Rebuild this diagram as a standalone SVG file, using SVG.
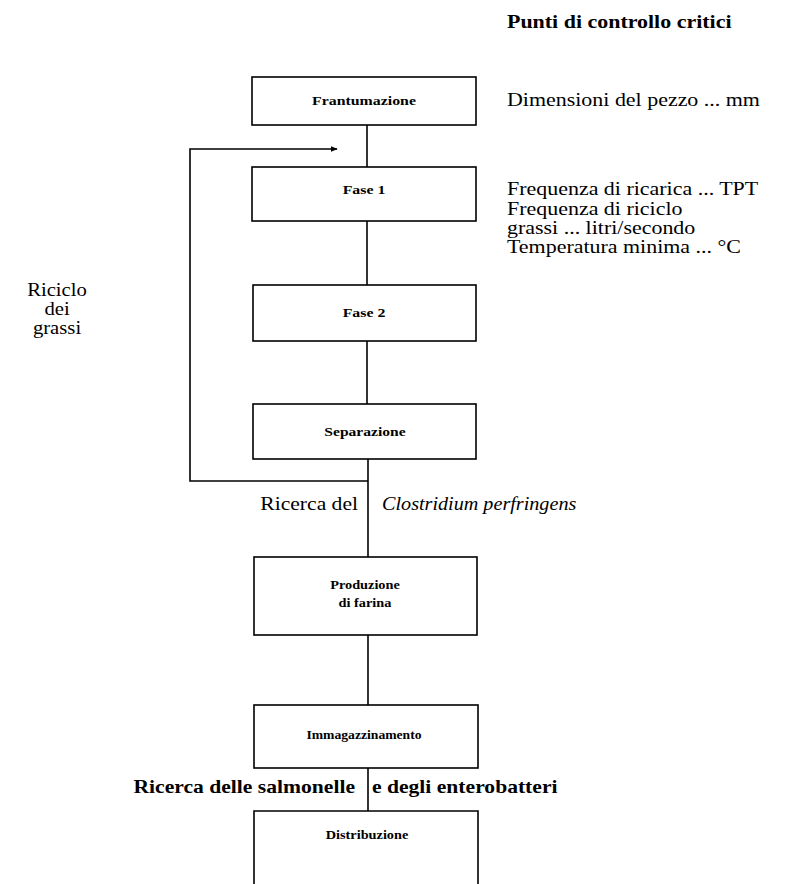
<svg xmlns="http://www.w3.org/2000/svg" width="791" height="884" viewBox="0 0 791 884">
<defs>
<style>
.box{fill:#fff;stroke:#000;stroke-width:1.6}
.ln{fill:none;stroke:#000;stroke-width:1.6}
.bl{font-family:"Liberation Serif",serif;font-size:13px;font-weight:bold;text-anchor:middle;fill:#000}
.sl{font-family:"Liberation Serif",serif;font-size:18px;fill:#000}
.sb{font-family:"Liberation Serif",serif;font-size:18px;font-weight:bold;fill:#000}
</style>
<marker id="ah" viewBox="0 0 10 10" refX="9" refY="5" markerWidth="7" markerHeight="7" orient="auto" markerUnits="userSpaceOnUse">
<path d="M0,1 L10,5 L0,9 Z" fill="#000"/>
</marker>
</defs>
<rect width="791" height="884" fill="#fff"/>
<g id="connectors">
<line class="ln" x1="367" y1="125" x2="367" y2="167"/>
<line class="ln" x1="367" y1="221" x2="367" y2="285"/>
<line class="ln" x1="367" y1="341" x2="367" y2="404"/>
<line class="ln" x1="368" y1="459" x2="368" y2="557"/>
<line class="ln" x1="368" y1="635" x2="368" y2="705"/>
<line class="ln" x1="368" y1="768" x2="368" y2="811"/>
<polyline class="ln" points="368,481 190,481 190,149 337,149" marker-end="url(#ah)"/>
</g>
<g id="header" transform="translate(507,0) scale(1.22,1)"><text class="sb" x="0" y="28">Punti di controllo critici</text></g>
<g id="frantumazione">
<rect class="box" x="252" y="77" width="224" height="48"/>
<g transform="translate(364,0) scale(1.22,1)"><text class="bl" x="0" y="105">Frantumazione</text></g>
</g>
<g id="cp-frantumazione" transform="translate(507,0) scale(1.22,1)"><text class="sl" x="0" y="106">Dimensioni del pezzo ... mm</text></g>
<g id="fase1">
<rect class="box" x="252" y="167" width="224" height="54"/>
<g transform="translate(364,0) scale(1.22,1)"><text class="bl" x="0" y="194">Fase 1</text></g>
</g>
<g id="cp-fase1" transform="translate(507,0) scale(1.22,1)">
<text class="sl" x="0" y="195">Frequenza di ricarica ... TPT</text>
<text class="sl" x="0" y="215">Frequenza di riciclo</text>
<text class="sl" x="0" y="234">grassi ... litri/secondo</text>
<text class="sl" x="0" y="253">Temperatura minima ... °C</text>
</g>
<g id="fase2">
<rect class="box" x="253" y="285" width="223" height="56"/>
<g transform="translate(364,0) scale(1.22,1)"><text class="bl" x="0" y="317">Fase 2</text></g>
</g>
<g id="riciclo" transform="translate(57,0) scale(1.15,1)">
<text class="sl" x="0" y="296" text-anchor="middle">Riciclo</text>
<text class="sl" x="0" y="315" text-anchor="middle">dei</text>
<text class="sl" x="0" y="334" text-anchor="middle">grassi</text>
</g>
<g id="separazione">
<rect class="box" x="253" y="404" width="223" height="55"/>
<g transform="translate(365,0) scale(1.2,1)"><text class="bl" x="0" y="436">Separazione</text></g>
</g>
<g id="cp-separazione">
<g transform="translate(358,0) scale(1.2,1)"><text class="sl" x="0" y="510" text-anchor="end">Ricerca del</text></g>
<g transform="translate(382,0) scale(1.12,1)"><text class="sl" x="0" y="510" font-style="italic">Clostridium perfringens</text></g>
</g>
<g id="produzione">
<rect class="box" x="254" y="557" width="223" height="78"/>
<g transform="translate(365,0) scale(1.1,1)">
<text class="bl" x="0" y="589">Produzione</text>
<text class="bl" x="0" y="607">di farina</text>
</g>
</g>
<g id="immagazzinamento">
<rect class="box" x="254" y="705" width="224" height="63"/>
<g transform="translate(364,0) scale(1.05,1)"><text class="bl" x="0" y="739">Immagazzinamento</text></g>
</g>
<g id="cp-immagazzinamento">
<g transform="translate(355,0) scale(1.2,1)"><text class="sb" x="0" y="793" text-anchor="end">Ricerca delle salmonelle</text></g>
<g transform="translate(372,0) scale(1.2,1)"><text class="sb" x="0" y="793">e degli enterobatteri</text></g>
</g>
<g id="distribuzione">
<path class="ln" d="M254,884 L254,811 L478,811 L478,884"/>
<g transform="translate(367,0) scale(1.1,1)"><text class="bl" x="0" y="839">Distribuzione</text></g>
</g>
</svg>
